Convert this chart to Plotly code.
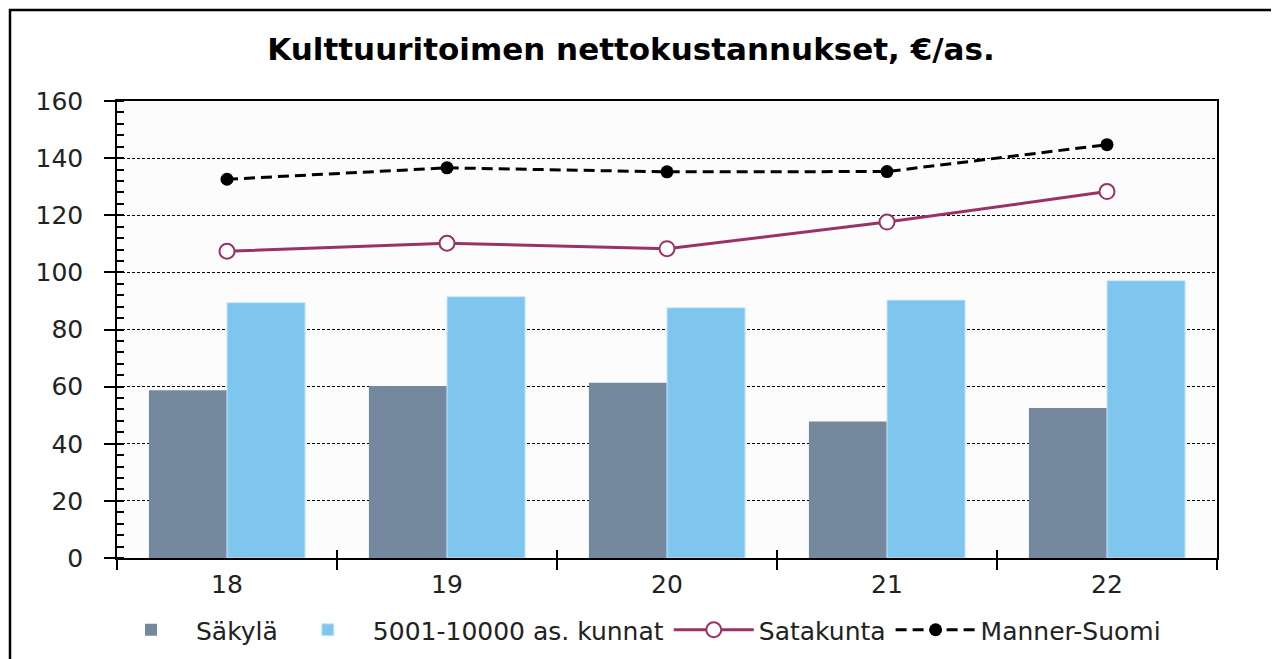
import plotly.graph_objects as go

categories = ["18", "19", "20", "21", "22"]
sakyla = [58.7, 60.2, 61.4, 47.8, 52.5]
kunnat = [89.4, 91.5, 87.6, 90.3, 97.1]
satakunta = [107.4, 110.2, 108.3, 117.6, 128.3]
manner_suomi = [132.6, 136.6, 135.2, 135.3, 144.7]

FONT = "DejaVu Sans, Liberation Sans, Arial, sans-serif"

# the page body adds an 8px offset; plot area in screen px: x 117-1217, y 101-558
OFF = 8
W, H = 1279 - OFF, 659 - OFF

fig = go.Figure()
fig.add_trace(go.Bar(name="Säkylä", x=categories, y=sakyla,
                     marker=dict(color="#74899E", line=dict(width=0))))
fig.add_trace(go.Bar(name="5001-10000 as. kunnat", x=categories, y=kunnat,
                     marker=dict(color="#7EC6EE", line=dict(color="#C9E8F8", width=1))))
fig.add_trace(go.Scatter(name="Satakunta", x=categories, y=satakunta, mode="lines+markers",
                         line=dict(color="#993366", width=3),
                         marker=dict(size=15, color="white", line=dict(color="#993366", width=2))))
fig.add_trace(go.Scatter(name="Manner-Suomi", x=categories, y=manner_suomi, mode="lines+markers",
                         line=dict(color="black", width=3, dash="11px,6px"),
                         marker=dict(size=13, color="black")))
# helper trace so the inside half of the crossing x ticks can be drawn
fig.add_trace(go.Scatter(x=categories, y=[None]*5, xaxis="x2", showlegend=False,
                         hoverinfo="skip", mode="lines"))

fig.update_layout(
    width=W, height=H,
    margin=dict(l=117 - OFF, r=1279 - 1217, t=101 - OFF, b=659 - 558, autoexpand=False),
    paper_bgcolor="white",
    plot_bgcolor="#FCFCFC",
    font=dict(family=FONT, size=24, color="#222222"),
    title=dict(text="<b>Kulttuuritoimen nettokustannukset, €/as.</b>",
               font=dict(family=FONT, size=31, color="black"),
               x=(631 - OFF) / W, xanchor="center", xref="container",
               y=1 - (49 - OFF) / H, yanchor="middle", yref="container"),
    barmode="group", bargap=0.29, bargroupgap=0,
    showlegend=True,
    legend=dict(orientation="h", x=(636 - OFF) / W, xanchor="center", xref="container",
                y=1 - (630 - OFF) / H, yanchor="middle", yref="container",
                font=dict(family=FONT, size=25, color="#222222"),
                itemwidth=80, tracegroupgap=0, bgcolor="rgba(0,0,0,0)"),
    xaxis=dict(type="category", categoryorder="array", categoryarray=categories,
               showline=True, linecolor="black", linewidth=1.5, mirror=True,
               ticks="outside", ticklen=10, tickwidth=1.5, tickcolor="black",
               tickson="boundaries", showgrid=False, ticklabelstandoff=3,
               tickfont=dict(family=FONT, size=25, color="#222222")),
    xaxis2=dict(type="category", categoryorder="array", categoryarray=categories,
                overlaying="x", matches="x", side="bottom", showline=False,
                ticks="inside", ticklen=8, tickwidth=1.5, tickcolor="black",
                tickson="boundaries", showticklabels=False, showgrid=False),
    yaxis=dict(range=[0, 160], dtick=20, tick0=0,
               showline=True, linecolor="black", linewidth=1.5, mirror=True,
               ticks="outside", ticklen=11, tickwidth=1.5, tickcolor="black",
               showgrid=True, gridcolor="black", gridwidth=1, griddash="3px,2px",
               zeroline=False, ticklabelstandoff=16,
               tickfont=dict(family=FONT, size=25, color="#222222"),
               minor=dict(dtick=4, ticks="inside", ticklen=7, tickwidth=1.5,
                          tickcolor="black", showgrid=False)),
)

# outer chart frame (screen px 10,10 to beyond the window)
fig.add_shape(type="rect", xref="paper", yref="paper",
              x0=(10 - 117) / 1100, x1=(1290 - 117) / 1100,
              y0=(558 - 680) / 457, y1=(558 - 10) / 457,
              line=dict(color="black", width=2.5), fillcolor="rgba(0,0,0,0)", layer="below")

fig.write_html("out.html")
